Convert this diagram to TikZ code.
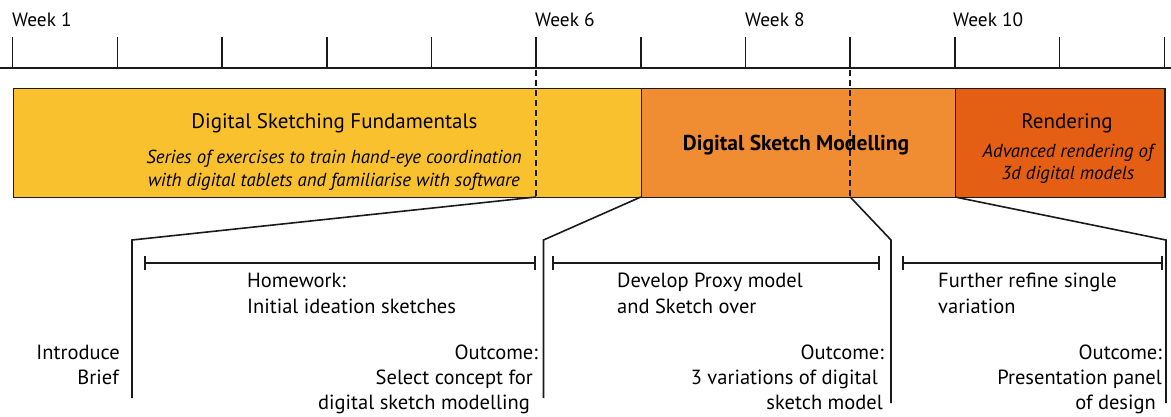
\documentclass[tikz,border=0pt]{standalone}
\usepackage{fontspec}
\setmainfont{PT Sans}
\usetikzlibrary{arrows.meta}
\definecolor{cYel}{HTML}{F9C12E}
\definecolor{cOra}{HTML}{F08D33}
\definecolor{cDrk}{HTML}{E45F13}
\definecolor{cLine}{HTML}{1A1A1A}
\begin{document}
\begin{tikzpicture}[x=1pt,y=-1pt,
  seg/.style={draw=cLine, line width=1.4pt, anchor=north west, inner sep=0pt, minimum height=109pt},
  tick/.style={line width=1.6pt, draw=cLine},
  conn/.style={line width=1.6pt, draw=cLine},
  dashln/.style={line width=1.6pt, draw=cLine, dash pattern=on 6pt off 4pt},
  span/.style={line width=1.6pt, draw=cLine, {Bar[width=14pt]}-{Bar[width=14pt]}},
  wk/.style={anchor=base west, inner sep=0pt, font=\fontsize{19.3}{22}\selectfont},
  txt/.style={inner sep=0pt, font=\fontsize{20.5}{26}\selectfont},
  ttl/.style={inner sep=0pt, anchor=base, font=\fontsize{21}{24}\selectfont},
  itl/.style={inner sep=0pt, anchor=base, font=\fontsize{18.8}{22}\selectfont\itshape},
]
\useasboundingbox (0,0) rectangle (1171,416);
% timeline
\coordinate (tlL) at (0,68);
\coordinate (tlR) at (1171,68);
\draw[tick] (tlL) -- (tlR);
\foreach \i in {0,...,11} {
  \coordinate (tk\i) at ({12.6+104.7*\i},68);
  \draw[tick] (tk\i) -- ++(0,-31);
}
\node[wk] (w1) at (12,26) {Week 1};
\node[wk] (w6) at (535,26) {Week 6};
\node[wk] (w8) at (745,26) {Week 8};
\node[wk] (w10) at (953,26) {Week 10};
% bar
\node[seg, fill=cYel, minimum width=628.2pt] (fund) at (12.6,88) {};
\node[seg, fill=cOra, minimum width=314.2pt] (mod) at (640.8,88) {};
\node[seg, fill=cDrk, minimum width=209.3pt] (rend) at (955,88) {};
% dashed
\coordinate (d6t) at (536.1,70);
\coordinate (d6b) at (536.1,197);
\coordinate (d9t) at (850.2,70);
\coordinate (d9b) at (850.2,197);
\draw[dashln] (d6t) -- (d6b);
\draw[dashln] (d9t) -- (d9b);
% bar texts
\node[ttl] (ft) at (334.5,128) {Digital Sketching Fundamentals};
\node[itl] (fi1) at (334,163) {Series of exercises to train hand-eye coordination};
\node[itl] (fi2) at (334,186) {with digital tablets and familiarise with software};
\node[ttl, font=\fontsize{21.5}{24}\selectfont\bfseries] (mt) at (796,150) {Digital Sketch Modelling};
\node[ttl] (rt) at (1067,128) {Rendering};
\node[itl] (ri1) at (1068,157) {Advanced rendering of};
\node[itl] (ri2) at (1068,179) {3d digital models};
% connectors
\coordinate (c1a) at (132,240); \coordinate (c1b) at (132,398);
\coordinate (c2a) at (543.5,240); \coordinate (c2b) at (543.5,398);
\coordinate (c3a) at (891,240); \coordinate (c3b) at (891,403);
\coordinate (c4a) at (1166,240); \coordinate (c4b) at (1166,403);
\coordinate (m8b) at (640.8,197);
\coordinate (r10b) at (955,197);
\draw[conn] (d6b) -- (c1a) -- (c1b);
\draw[conn] (m8b) -- (c2a) -- (c2b);
\draw[conn] (d9b) -- (c3a) -- (c3b);
\draw[conn] (r10b) -- (c4a) -- (c4b);
% spans
\coordinate (s1a) at (144,263); \coordinate (s1b) at (536,263);
\coordinate (s2a) at (552,263); \coordinate (s2b) at (880,263);
\coordinate (s3a) at (902,263); \coordinate (s3b) at (1163,263);
\draw[span] (s1a) -- (s1b);
\draw[span] (s2a) -- (s2b);
\draw[span] (s3a) -- (s3b);
% lower texts
\node[txt, anchor=base west] (h1) at (247,287.5) {Homework:};
\node[txt, anchor=base west] (h2) at (247,313) {Initial ideation sketches};
\node[txt, anchor=base west] (p1) at (617,287.5) {Develop Proxy model};
\node[txt, anchor=base west] (p2) at (617,313) {and Sketch over};
\node[txt, anchor=base west] (f1) at (938,287.5) {Further refine single};
\node[txt, anchor=base west] (f2) at (938,313) {variation};
\node[txt, anchor=base east] (ib1) at (120,359) {Introduce};
\node[txt, anchor=base east] (ib2) at (119,384) {Brief};
\node[txt, anchor=base east] (o1a) at (538,359) {Outcome:};
\node[txt, anchor=base east] (o1b) at (533,384) {Select concept for};
\node[txt, anchor=base east] (o1c) at (530,409) {digital sketch modelling};
\node[txt, anchor=base east] (o2a) at (884,359) {Outcome:};
\node[txt, anchor=base east] (o2b) at (878,384) {3 variations of digital};
\node[txt, anchor=base east] (o2c) at (883,409) {sketch model};
\node[txt, anchor=base east] (o3a) at (1162,359) {Outcome:};
\node[txt, anchor=base east] (o3b) at (1162,384) {Presentation panel};
\node[txt, anchor=base east] (o3c) at (1156,409) {of design};
\end{tikzpicture}
\end{document}
